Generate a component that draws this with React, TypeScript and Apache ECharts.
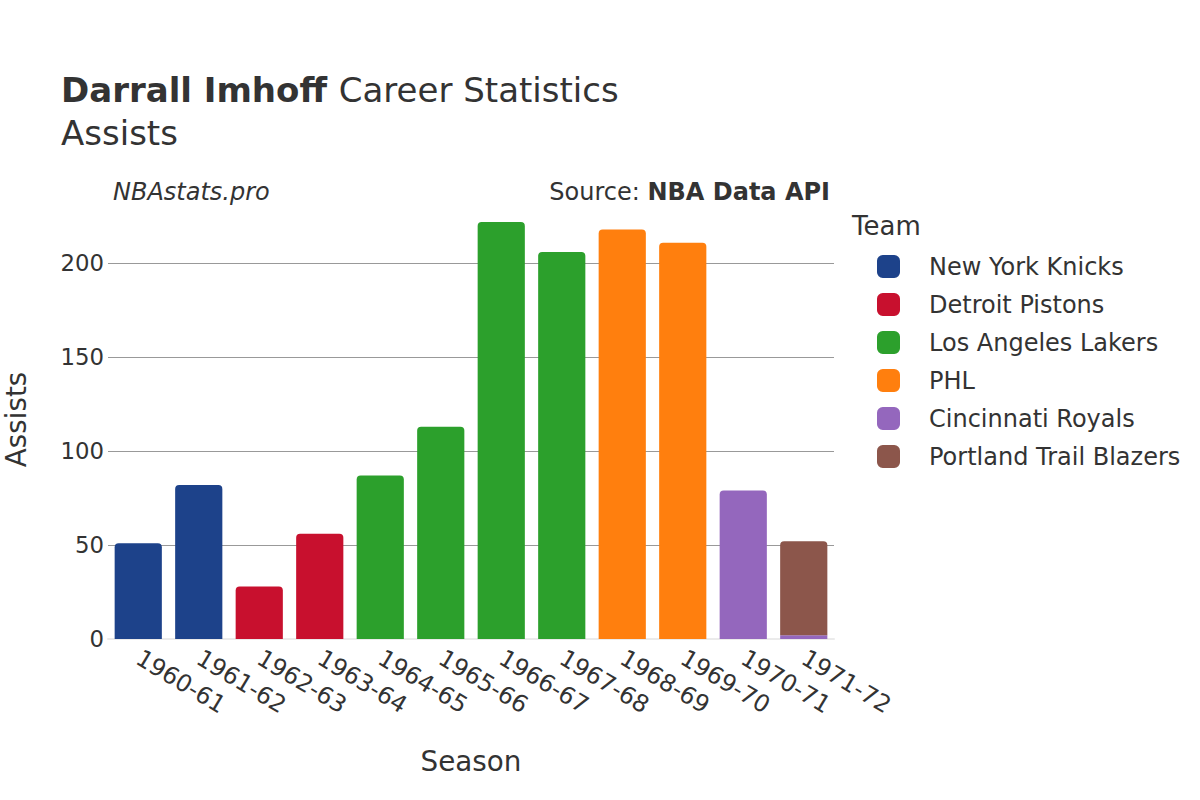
import React, { useEffect, useRef } from "react";
import * as echarts from "echarts";

const FONT = "DejaVu Sans";

const seasons = [
  "1960-61", "1961-62", "1962-63", "1963-64", "1964-65", "1965-66",
  "1966-67", "1967-68", "1968-69", "1969-70", "1970-71", "1971-72",
];

const teams = [
  "New York Knicks",
  "Detroit Pistons",
  "Los Angeles Lakers",
  "PHL",
  "Cincinnati Royals",
  "Portland Trail Blazers",
];

const teamColors = ["#1D428A", "#C8102E", "#2CA02C", "#FF7F0E", "#9467BD", "#8C564B"];

const knicks = [51, 82, null, null, null, null, null, null, null, null, null, null];
const pistons = [null, null, 28, 56, null, null, null, null, null, null, null, null];
const lakers = [null, null, null, null, 87, 113, 222, 206, null, null, null, null];
const phl = [null, null, null, null, null, null, null, null, 218, 211, null, null];
const royals = [null, null, null, null, null, null, null, null, null, null, 79, 2];
const blazers = [null, null, null, null, null, null, null, null, null, null, null, 50];

const teamValues = [knicks, pistons, lakers, phl, royals, blazers];

const yTicks = [0, 50, 100, 150, 200];
const yMax = 233.7;

export default function App() {
  const ref = useRef<HTMLDivElement>(null);

  useEffect(() => {
    if (!ref.current) return;
    const chart = echarts.init(ref.current, null, { renderer: "svg" });

    const series = teams.map((name, ti) => ({
      name,
      type: "bar",
      stack: "total",
      barWidth: "78%",
      itemStyle: { color: teamColors[ti] },
      data: teamValues[ti].map((v, si) => {
        if (v === null) return null;
        const onTop = teamValues.slice(ti + 1).every((arr) => arr[si] === null);
        return {
          value: v,
          itemStyle: { borderRadius: onTop ? [4, 4, 0, 0] : 0 },
        };
      }),
    }));

    chart.setOption({
      animation: false,
      backgroundColor: "#ffffff",
      textStyle: { fontFamily: FONT },
      title: [
        {
          left: 56,
          top: 63,
          text: "{b|Darrall Imhoff }{r|Career Statistics}\n{r|Assists}",
          textStyle: {
            fontFamily: FONT,
            fontWeight: "normal",
            lineHeight: 43,
            rich: {
              b: { fontFamily: FONT, fontSize: 34, fontWeight: "bold", color: "#333", lineHeight: 43 },
              r: { fontFamily: FONT, fontSize: 34, fontWeight: "normal", color: "#333", lineHeight: 43 },
            },
          },
        },
        {
          left: 108,
          top: 175,
          text: "NBAstats.pro",
          textStyle: { fontFamily: FONT, fontSize: 24, fontStyle: "italic", fontWeight: "normal", color: "#333" },
        },
        {
          right: 365,
          top: 175,
          text: "{r|Source: }{b|NBA Data API}",
          textStyle: {
            fontFamily: FONT,
            fontWeight: "normal",
            rich: {
              r: { fontFamily: FONT, fontSize: 24, fontWeight: "normal", color: "#333" },
              b: { fontFamily: FONT, fontSize: 24, fontWeight: "bold", color: "#333" },
            },
          },
        },
        {
          left: 847,
          top: 208,
          text: "Team",
          textStyle: { fontFamily: FONT, fontSize: 26, fontWeight: "normal", color: "#333" },
        },
      ],
      legend: {
        orient: "vertical",
        left: 872,
        top: 249.5,
        itemWidth: 23,
        itemHeight: 23,
        itemGap: 14,
        icon: "roundRect",
        data: teams,
        selectedMode: false,
        textStyle: {
          fontFamily: FONT,
          fontSize: 24,
          color: "#333",
          lineHeight: 23,
          padding: [0, 0, 0, 24],
        },
      },
      grid: { left: 108, right: 366, top: 200, bottom: 161, containLabel: false, outerBoundsMode: "none" },
      xAxis: {
        type: "category",
        data: seasons,
        name: "Season",
        nameLocation: "middle",
        nameGap: 108,
        nameTextStyle: { fontFamily: FONT, fontSize: 27.8, color: "#333" },
        axisTick: { show: false },
        axisLine: { show: true, lineStyle: { color: "#ebebeb", width: 2 } },
        axisLabel: {
          rotate: -31,
          fontFamily: FONT,
          fontSize: 23.8,
          color: "#333",
          margin: 17,
          interval: 0,
        },
      },
      yAxis: {
        type: "value",
        min: 0,
        max: yMax,
        interval: 50,
        name: "Assists",
        nameLocation: "middle",
        nameGap: 78,
        nameTextStyle: { fontFamily: FONT, fontSize: 27.8, color: "#333" },
        axisLine: { show: false },
        axisTick: { show: false },
        axisLabel: {
          fontFamily: FONT,
          fontSize: 22.8,
          color: "#333",
          margin: 4,
          showMaxLabel: false,
          formatter: (v: number) => (yTicks.includes(v) ? String(v) : ""),
        },
        splitLine: {
          show: true,
          showMinLine: false,
          showMaxLine: false,
          lineStyle: { color: "#999", width: 1 },
        },
      },
      series,
    });

    return () => chart.dispose();
  }, []);

  return (
    <div
      ref={ref}
      style={{ position: "fixed", left: 0, top: 0, width: 1200, height: 800 }}
    />
  );
}
